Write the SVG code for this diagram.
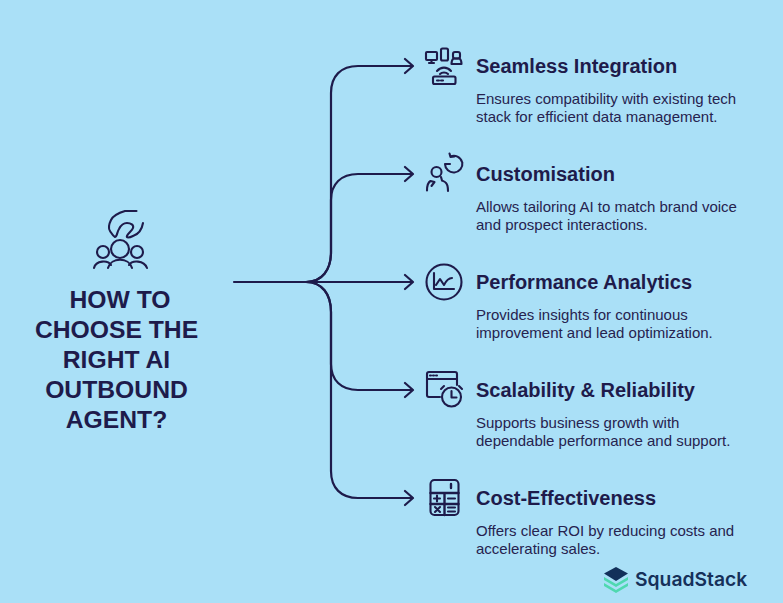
<svg xmlns="http://www.w3.org/2000/svg" width="783" height="603" viewBox="0 0 783 603">
<style>
text{font-family:"Liberation Sans",Arial,sans-serif;fill:#1e1b4b}
.t{font-size:20px;font-weight:700}
.d{font-size:15px;fill:#26234f}
.h{font-size:24.700px;font-weight:700;text-anchor:middle}
.l,.i{fill:none;stroke:#1e1b4b;stroke-linecap:round;stroke-linejoin:round}
.l{stroke-width:2.2}
.i{stroke-width:2.1}
</style>
<rect width="783" height="603" fill="#aae0f7"/>
<g id="connectors" class="l">
<path d="M234 282H412"/>
<path d="M306 282C322 282 331 270 331 252V93C331 76 341 66 358 66H412"/>
<path d="M306 282C322 282 331 270 331 252V200C331 184 341 174 358 174H412"/>
<path d="M306 282C322 282 331 294 331 312V364C331 380 341 390 358 390H412"/>
<path d="M306 282C322 282 331 294 331 312V471C331 488 341 498 358 498H412"/>
<path d="M405 59l8 7l-8 7M405 167l8 7l-8 7M405 275l8 7l-8 7M405 383l8 7l-8 7M405 491l8 7l-8 7"/>
</g>
<g id="root">
<g class="i">
<path d="M136.500 211H125C118 213 113 216 111 220C109 224 108 228 110 231C112 234 113 236 115 237C117 237 117 232 119 229C121 225 124 223 127 223C131 223 134 225 133 228C132 231 128 233 127 236C126 238 129 238 133 236C139 234 142 229 143 223"/>
<circle cx="120" cy="249" r="9"/><circle cx="103" cy="252" r="6"/><circle cx="137" cy="252" r="6"/>
<path d="M94 268C96 260 108 260 111 265M108 268C111 257 129 257 132 268M129 265C132 260 144 260 147 268"/>
</g>
<text class="h" x="120" y="308">HOW TO</text>
<text class="h" x="116.500" y="338">CHOOSE THE</text>
<text class="h" x="116.500" y="368">RIGHT AI</text>
<text class="h" x="116.500" y="398">OUTBOUND</text>
<text class="h" x="116.500" y="428">AGENT?</text>
</g>
<g id="n1">
<g class="i">
<rect x="426" y="52" width="11" height="8" rx="1"/><path d="M429 63h5M431.500 60v3"/>
<rect x="441" y="48.500" width="7" height="12" rx="1.500"/>
<rect x="453" y="52" width="7" height="6.500" rx="2"/><path d="M451.500 64c0-3 0-4 2-5.500h6c2 1.500 2 2.500 2 5.500z"/>
<path d="M437 71c4-4.500 10-4.500 14 0M440 74c2-2 6-2 8 0"/>
<rect x="433" y="76.500" width="22.500" height="7.500" rx="1.500"/><path d="M437 80.500h2M441 80.500h2"/>
</g>
<text class="t" x="476" y="73">Seamless Integration</text>
<text class="d" x="476" y="104">Ensures compatibility with existing tech</text>
<text class="d" x="476" y="122">stack for efficient data management.</text>
</g>
<g id="n2">
<g class="i">
<path d="M445 164a8.700 8.700 0 1 0 17.300-1.500M445 164h5M462 162a8.500 8.500 0 0 0-11.500-5.500M449.500 153.500l1 3.500l4 -0.500"/>
<circle cx="436.500" cy="172" r="5"/>
<path d="M427 190.500c0-5 1-8 3.500-9.500l4 1l-3 4M448 191c0-4-1-7-2-8c-1-1.500-3-2-4-2.500l-1-3.500"/>
</g>
<text class="t" x="476" y="181">Customisation</text>
<text class="d" x="476" y="212">Allows tailoring AI to match brand voice</text>
<text class="d" x="476" y="230">and prospect interactions.</text>
</g>
<g id="n3">
<g class="i">
<circle cx="444" cy="282" r="17.500"/>
<path d="M434 273v16h20M436 285l4-6l4 6c2-4 4-7 8-7"/>
</g>
<text class="t" x="476" y="289">Performance Analytics</text>
<text class="d" x="476" y="320">Provides insights for continuous</text>
<text class="d" x="476" y="338">improvement and lead optimization.</text>
</g>
<g id="n4">
<g class="i">
<path d="M440 397H429a2 2 0 0 1-2-2V374a2 2 0 0 1 2-2H455a2 2 0 0 1 2 2V385M427 379H457"/>
<path d="M430 375.500h1M433 375.500h1M436 375.500h1"/>
<circle cx="451.500" cy="397" r="9.500"/><path d="M451.500 391v6.500h5M441 389l3-3M462 389l-3-3"/>
</g>
<text class="t" x="476" y="397">Scalability &amp; Reliability</text>
<text class="d" x="476" y="428">Supports business growth with</text>
<text class="d" x="476" y="446">dependable performance and support.</text>
</g>
<g id="n5">
<g class="i">
<rect x="430.500" y="480" width="28" height="35" rx="4"/>
<path d="M430.500 493H458.500M444.500 493V515M430.500 504H458.500M451 484v4" stroke-width="2.400"/>
<path d="M434 498.500h6M437 495.500v6M448 498.500h7M435 507l5 5M440 507l-5 5M448 507.500h7M448 511.500h7"/>
</g>
<text class="t" x="476" y="505">Cost-Effectiveness</text>
<text class="d" x="476" y="536">Offers clear ROI by reducing costs and</text>
<text class="d" x="476" y="554">accelerating sales.</text>
</g>
<g id="logo">
<path d="M604 573.500L616 567L628 573.500L616 581Z" fill="#12305a"/>
<path d="M604 577v3l12 7l12-7v-3l-12 7zM604 583v3l12 7l12-7v-3l-12 7z" fill="#4fd8b0"/>
<text x="635" y="586" style="font-family:Inter,'Noto Sans',sans-serif;font-size:19.300px;font-weight:600;fill:#16305a">SquadStack</text>
</g>
</svg>
